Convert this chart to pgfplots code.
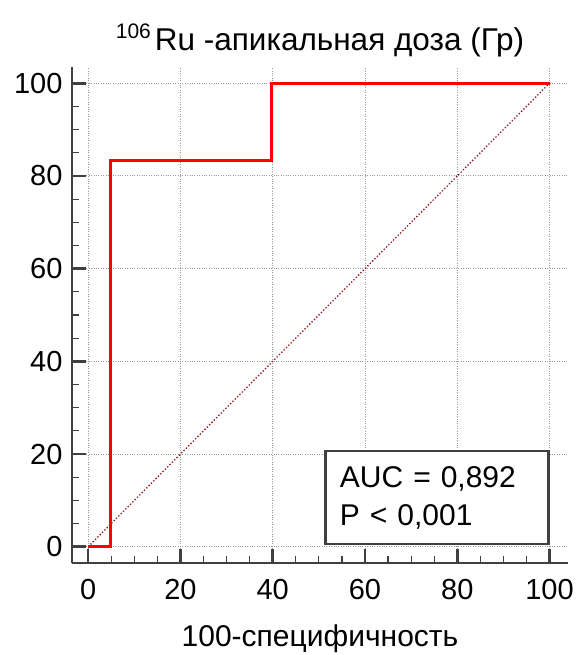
\documentclass[border=0pt]{standalone}
\usepackage{fontspec}
\setmainfont{Liberation Sans}
\usepackage{pgfplots}
\pgfplotsset{compat=1.18}
\definecolor{axgray}{RGB}{64,64,64}
\definecolor{rocred}{RGB}{255,0,0}
\definecolor{diagred}{RGB}{150,20,20}
\begin{document}
\begin{tikzpicture}
\begin{axis}[
  scale only axis, width=496pt, height=496pt,
  xmin=-3.5, xmax=104, ymin=-3.5, ymax=103.5,
  axis lines=left, axis line style={-, line width=2.6pt, color=axgray},
  xtick={0,20,...,100}, ytick={0,20,...,100},
  minor tick num=3,
  tick align=inside,
  major tick length=14pt, minor tick length=7pt,
  every major tick/.style={line width=2.6pt, color=axgray},
  every minor tick/.style={line width=1.2pt, color=axgray},
  grid=major, grid style={dotted, gray!80, line width=0.9pt},
  /pgf/number format/assume math mode=true,
  tick label style={font=\fontsize{29}{32}\selectfont},
  xticklabel style={yshift=-13pt},
  yticklabel style={xshift=-6pt},
  title={\raisebox{12pt}{\fontsize{21}{22}\selectfont 106}\hspace{4pt}Ru -апикальная доза (Гр)},
  title style={font=\fontsize{31.5}{34}\selectfont, yshift=0pt},
  xlabel={100-специфичность},
  xlabel style={font=\fontsize{30}{34}\selectfont, yshift=-18pt},
  clip=false,
]
\coordinate (bbsw) at ([shift={(-72pt,-92pt)}]rel axis cs:0,0);
\coordinate (bbne) at ([shift={(12pt,67pt)}]rel axis cs:1,1);
\addplot[diagred, dotted, line width=1.3pt] coordinates {(0,0)(100,100)};
\addplot[rocred, line width=2.8pt, line join=miter] coordinates {(0,0)(4.8,0)(4.8,83.3)(39.7,83.3)(39.7,100)(100,100)};
\node[draw=axgray, line width=2.2pt, fill=white, anchor=south east, align=left,
  minimum width=223pt, minimum height=93pt, inner xsep=14pt,
  font=\fontsize{30}{38}\selectfont, text width=194pt]
  at (axis cs:100,0.3) {AUC = 0,892\\P < 0,001};
\end{axis}
\pgfresetboundingbox
\path[use as bounding box] (bbsw) rectangle (bbne);
\end{tikzpicture}
\end{document}
